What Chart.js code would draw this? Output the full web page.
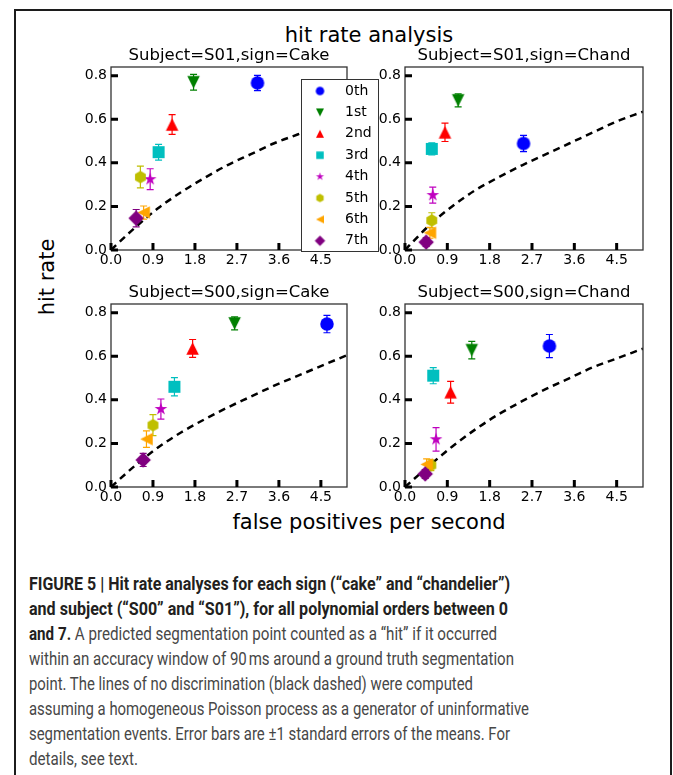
<!DOCTYPE html>
<html>
<head>
<meta charset="utf-8">
<title>hit rate analysis</title>
<script src="https://cdn.jsdelivr.net/npm/chart.js@4.4.0/dist/chart.umd.min.js"></script>
<style>
  html, body { margin: 0; padding: 0; background: #fff; width: 673px; height: 775px; overflow: hidden; }
  .frame { position: absolute; left: 14px; top: 9px; width: 658px; height: 820px; border: 2px solid #1c1c1c; box-sizing: border-box; }
  canvas { position: absolute; }
  .mpl { position: absolute; font-family: "DejaVu Sans"; font-size: 21px; line-height: 24px; color: #000; white-space: nowrap; text-align: center; }
  #caption { position: absolute; left: 29px; top: 571px; font-family: Roboto, "Liberation Sans", sans-serif; font-size: 18px; line-height: 25px; color: #474747; }
  #caption div { white-space: nowrap; width: max-content; transform-origin: 0 0; }
  #caption b { color: #231f20; font-weight: 700; }
</style>
</head>
<body>
<div class="frame"></div>

<div class="mpl" style="left:269px; top:23px; width:200px;">hit rate analysis</div>
<div class="mpl" style="left:219px; top:510px; width:300px;">false positives per second</div>
<div class="mpl" style="left:-3px; top:265px; width:100px; transform:rotate(-90deg);">hit rate</div>

<canvas id="s01chand" width="298" height="231" style="left:355px; top:41px;"></canvas>
<canvas id="s00cake" width="296" height="231" style="left:61px; top:278px;"></canvas>
<canvas id="s00chand" width="298" height="231" style="left:355px; top:278px;"></canvas>
<canvas id="s01cake" width="319" height="231" style="left:61px; top:41px;"></canvas>

<div id="caption">
  <div data-w="481"><b>FIGURE 5 | Hit rate analyses for each sign (“cake” and “chandelier”)</b></div>
  <div data-w="479"><b>and subject (“S00” and “S01”), for all polynomial orders between 0</b></div>
  <div data-w="468"><b>and 7.</b> A predicted segmentation point counted as a “hit” if it occurred</div>
  <div data-w="485">within an accuracy window of 90&#8239;ms around a ground truth segmentation</div>
  <div data-w="444">point. The lines of no discrimination (black dashed) were computed</div>
  <div data-w="500">assuming a homogeneous Poisson process as a generator of uninformative</div>
  <div data-w="481">segmentation events. Error bars are ±1 standard errors of the means. For</div>
  <div data-w="109">details, see text.</div>
</div>

<script>
const orderLabels = ['0th', '1st', '2nd', '3rd', '4th', '5th', '6th', '7th'];
const xTickValues = [0, 0.9, 1.8, 2.7, 3.6, 4.5];
const yTickValues = [0, 0.2, 0.4, 0.6, 0.8];

// false positives per second, hit rate and standard error for each polynomial order
const s01CakeFp  = [3.14, 1.77, 1.31, 1.02, 0.84, 0.63, 0.70, 0.54];
const s01CakeHit = [0.767, 0.770, 0.576, 0.449, 0.325, 0.335, 0.172, 0.146];
const s01CakeErr = [0.035, 0.036, 0.045, 0.036, 0.048, 0.050, 0.030, 0.040];

const s01ChandFp  = [2.52, 1.13, 0.85, 0.57, 0.59, 0.57, 0.53, 0.45];
const s01ChandHit = [0.489, 0.687, 0.540, 0.464, 0.252, 0.136, 0.079, 0.036];
const s01ChandErr = [0.037, 0.030, 0.042, 0.028, 0.037, 0.035, 0.025, 0.020];

const s00CakeFp  = [4.63, 2.65, 1.75, 1.36, 1.07, 0.90, 0.76, 0.69];
const s00CakeHit = [0.748, 0.751, 0.636, 0.460, 0.358, 0.284, 0.220, 0.124];
const s00CakeErr = [0.040, 0.030, 0.041, 0.042, 0.046, 0.048, 0.038, 0.030];

const s00ChandFp  = [3.07, 1.42, 0.97, 0.60, 0.66, 0.55, 0.46, 0.43];
const s00ChandHit = [0.647, 0.628, 0.435, 0.511, 0.219, 0.100, 0.104, 0.060];
const s00ChandErr = [0.053, 0.040, 0.050, 0.037, 0.054, 0.025, 0.025, 0.020];

// line of no discrimination (Poisson), sampled along the x axis
const chanceFp        = [0, 0.5, 1.0, 1.5, 2.0, 2.5, 3.0, 3.5, 4.0, 4.5, 5.06];
const s01CakeChance   = [0, 0.10, 0.19, 0.265, 0.33, 0.39, 0.44, 0.49, 0.53, 0.57, 0.61];
const s01ChandChance  = [0, 0.11, 0.20, 0.275, 0.335, 0.39, 0.44, 0.49, 0.54, 0.59, 0.635];
const s00CakeChance   = [0, 0.095, 0.18, 0.25, 0.31, 0.365, 0.415, 0.465, 0.51, 0.555, 0.605];
const s00ChandChance  = [0, 0.095, 0.185, 0.265, 0.335, 0.395, 0.45, 0.50, 0.55, 0.59, 0.635];

// matplotlib-like marker per order
const markerShapes = ['o', 'v', '^', 's', '*', 'h', '<', 'D'];
const markerColors = ['#0000ff', '#008000', '#ff0000', '#00bfbf', '#bf00bf', '#bfbf00', '#ffa500', '#800080'];
const plotSizes    = [13.5, 12.5, 12.5, 12, 13.5, 12.5, 12.5, 15.5];
const legendSizes  = [8.5, 8, 8, 7.5, 8.5, 8.5, 8, 10.5];

function makeMarker(shape, size, color) {
  const c = document.createElement('canvas');
  const n = Math.ceil(size) + 2;
  c.width = n; c.height = n;
  const g = c.getContext('2d');
  const h = size / 2;
  g.translate(n / 2, n / 2);
  g.fillStyle = color;
  g.beginPath();
  if (shape === 'o') {
    g.arc(0, 0, h, 0, Math.PI * 2);
  } else if (shape === 'v') {
    g.moveTo(-h, -h); g.lineTo(h, -h); g.lineTo(0, h);
  } else if (shape === '^') {
    g.moveTo(0, -h); g.lineTo(h, h); g.lineTo(-h, h);
  } else if (shape === '<') {
    g.moveTo(-h, 0); g.lineTo(h, -h); g.lineTo(h, h);
  } else if (shape === 's') {
    g.rect(-h, -h, size, size);
  } else if (shape === 'D') {
    g.moveTo(0, -h); g.lineTo(h, 0); g.lineTo(0, h); g.lineTo(-h, 0);
  } else if (shape === '*') {
    for (let k = 0; k < 10; k++) {
      const r = k % 2 ? h * 0.382 : h;
      const t = -Math.PI / 2 + k * Math.PI / 5;
      k ? g.lineTo(r * Math.cos(t), r * Math.sin(t)) : g.moveTo(r * Math.cos(t), r * Math.sin(t));
    }
  } else if (shape === 'h') {
    for (let k = 0; k < 6; k++) {
      const t = -Math.PI / 2 + k * Math.PI / 3;
      k ? g.lineTo(h * Math.cos(t), h * Math.sin(t)) : g.moveTo(h * Math.cos(t), h * Math.sin(t));
    }
  }
  g.closePath();
  g.fill();
  return c;
}

const plotMarkers = markerShapes.map((s, i) => makeMarker(s, plotSizes[i], markerColors[i]));
const legendMarkers = markerShapes.map((s, i) => makeMarker(s, legendSizes[i], markerColors[i]));

const tickFont = { family: 'DejaVu Sans', size: 14 };

// vertical error bars with caps, drawn just under each marker
const errorBars = {
  id: 'errorBars',
  beforeDatasetDraw(chart, args) {
    const ds = chart.data.datasets[args.index];
    if (!ds.errors) return;
    const { ctx } = chart;
    const x = chart.scales.x, y = chart.scales.y;
    ctx.save();
    ctx.strokeStyle = ds.borderColor;
    ctx.lineWidth = 1.2;
    ds.data.forEach((p, j) => {
      const px = x.getPixelForValue(p.x);
      const top = y.getPixelForValue(p.y + ds.errors[j]);
      const bot = y.getPixelForValue(p.y - ds.errors[j]);
      ctx.beginPath();
      ctx.moveTo(px, top); ctx.lineTo(px, bot);
      ctx.moveTo(px - 3.5, top); ctx.lineTo(px + 3.5, top);
      ctx.moveTo(px - 3.5, bot); ctx.lineTo(px + 3.5, bot);
      ctx.stroke();
    });
    ctx.restore();
  }
};

// box around the axes plus short inward ticks on the left and bottom
const axesFrame = {
  id: 'axesFrame',
  afterDatasetsDraw(chart) {
    const { ctx, chartArea: a } = chart;
    const x = chart.scales.x, y = chart.scales.y;
    ctx.save();
    ctx.strokeStyle = '#333';
    ctx.lineWidth = 1.3;
    ctx.strokeRect(a.left, a.top, a.width, a.height);
    ctx.strokeStyle = '#000';
    ctx.lineWidth = 3;
    ctx.beginPath();
    x.ticks.forEach(t => {
      const px = x.getPixelForValue(t.value);
      ctx.moveTo(px, a.bottom); ctx.lineTo(px, a.bottom - 7);
    });
    y.ticks.forEach(t => {
      const py = y.getPixelForValue(t.value);
      ctx.moveTo(a.left, py); ctx.lineTo(a.left + 7, py);
    });
    ctx.stroke();
    ctx.restore();
  }
};

// legend box for the first panel, sticking out past its right edge
const orderLegend = {
  id: 'orderLegend',
  afterDraw(chart) {
    const { ctx, chartArea: a } = chart;
    const left = Math.round(a.left + 190) + 0.5, top = Math.round(a.top + 12) + 0.5;
    const right = Math.round(a.left + 267) + 0.5, bottom = Math.round(a.top + 184) + 0.5;
    ctx.save();
    ctx.fillStyle = '#fff';
    ctx.fillRect(left, top, right - left, bottom - top);
    ctx.strokeStyle = '#333';
    ctx.lineWidth = 1;
    ctx.strokeRect(left, top, right - left, bottom - top);
    ctx.font = '14px "DejaVu Sans"';
    ctx.fillStyle = '#000';
    ctx.textBaseline = 'middle';
    orderLabels.forEach((label, i) => {
      const cy = a.top + 24 + i * 21.4;
      const m = legendMarkers[i];
      ctx.drawImage(m, a.left + 209 - m.width / 2, cy - m.height / 2);
      ctx.fillText(label, a.left + 234, cy);
    });
    ctx.restore();
  }
};

function buildPanel(id, title, fp, hit, err, chance, rightPad, extra) {
  const datasets = [{
    data: chanceFp.map((x, i) => ({ x, y: chance[i] })),
    showLine: true,
    borderColor: '#000',
    borderWidth: 2.5,
    borderDash: [7, 5],
    pointRadius: 0,
    cubicInterpolationMode: 'monotone',
    order: 20
  }];
  orderLabels.forEach((label, i) => {
    datasets.push({
      label,
      data: [{ x: fp[i], y: hit[i] }],
      errors: [err[i]],
      pointStyle: plotMarkers[i],
      pointRadius: 7,
      backgroundColor: markerColors[i],
      borderColor: markerColors[i],
      order: 10 - i
    });
  });

  return new Chart(document.getElementById(id), {
    type: 'scatter',
    data: { datasets },
    options: {
      responsive: false,
      animation: false,
      devicePixelRatio: 1,
      layout: { padding: { left: 0, top: 0, right: rightPad, bottom: 0 } },
      plugins: {
        legend: { display: false },
        tooltip: { enabled: false },
        title: {
          display: true,
          text: title,
          fullSize: false,
          color: '#000',
          font: { family: 'DejaVu Sans', size: 16.5, weight: 'normal', lineHeight: '20px' },
          padding: { top: 5, bottom: 1 }
        }
      },
      scales: {
        x: {
          type: 'linear',
          min: 0,
          max: 5.06,
          afterBuildTicks: s => { s.ticks = xTickValues.map(v => ({ value: v })); },
          afterFit: s => { s.height = 22; },
          grid: { display: false, drawTicks: false },
          border: { display: false },
          ticks: { font: tickFont, color: '#000', padding: 2, maxRotation: 0, autoSkip: false, callback: v => v.toFixed(1) }
        },
        y: {
          type: 'linear',
          min: 0,
          max: 0.84,
          afterBuildTicks: s => { s.ticks = yTickValues.map(v => ({ value: v })); },
          afterFit: s => { s.width = 50; },
          grid: { display: false, drawTicks: false },
          border: { display: false },
          ticks: { font: tickFont, color: '#000', padding: 4, autoSkip: false, callback: v => v.toFixed(1) }
        }
      }
    },
    plugins: [errorBars, axesFrame].concat(extra || [])
  });
}

buildPanel('s01chand', 'Subject=S01,sign=Chand', s01ChandFp, s01ChandHit, s01ChandErr, s01ChandChance, 10);
buildPanel('s00cake', 'Subject=S00,sign=Cake', s00CakeFp, s00CakeHit, s00CakeErr, s00CakeChance, 10);
buildPanel('s00chand', 'Subject=S00,sign=Chand', s00ChandFp, s00ChandHit, s00ChandErr, s00ChandChance, 10);
buildPanel('s01cake', 'Subject=S01,sign=Cake', s01CakeFp, s01CakeHit, s01CakeErr, s01CakeChance, 33, [orderLegend]);

// squeeze each caption line to the column width of the printed figure
document.querySelectorAll('#caption div').forEach(line => {
  const w = line.getBoundingClientRect().width;
  line.style.transform = 'scaleX(' + (Number(line.dataset.w) / w) + ')';
});
</script>
</body>
</html>
